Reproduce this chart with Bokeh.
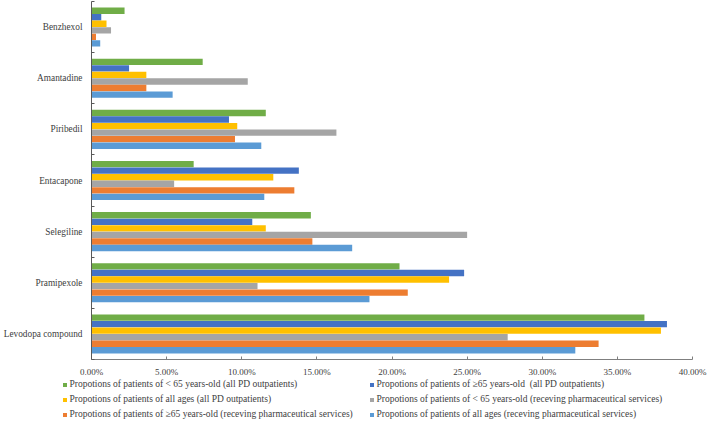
from bokeh.plotting import figure
from bokeh.models import (ColumnDataSource, Range1d, FixedTicker, PrintfTickFormatter,
                          Legend, LegendItem)
from bokeh.layouts import column
from bokeh.transform import dodge
from bokeh.embed import file_html
from bokeh.resources import INLINE

# Categories, bottom to top
drugs = ["Levodopa compound", "Pramipexole", "Selegiline", "Entacapone",
         "Piribedil", "Amantadine", "Benzhexol"]

lt65_all = [36.8, 20.5, 14.6, 6.8, 11.6, 7.4, 2.2]
ge65_all = [38.3, 24.8, 10.7, 13.8, 9.15, 2.5, 0.65]
allages_all = [37.9, 23.8, 11.6, 12.1, 9.7, 3.65, 1.0]
lt65_pharm = [27.7, 11.05, 25.0, 5.5, 16.3, 10.4, 1.3]
ge65_pharm = [33.75, 21.05, 14.7, 13.5, 9.55, 3.65, 0.3]
allages_pharm = [32.2, 18.5, 17.35, 11.5, 11.3, 5.4, 0.58]

series_labels = [
    "Propotions of patients of < 65 years-old (all PD outpatients)",
    "Propotions of patients of \u226565 years-old  (all PD outpatients)",
    "Propotions of patients of all ages (all PD outpatients)",
    "Propotions of patients of < 65 years-old (receving pharmaceutical services)",
    "Propotions of patients of \u226565 years-old (receving pharmaceutical services)",
    "Propotions of patients of all ages (receving pharmaceutical services)",
]
colors = ["#70AD47", "#4472C4", "#FFC000", "#A5A5A5", "#ED7D31", "#5B9BD5"]
x_ticks = [0, 5, 10, 15, 20, 25, 30, 35, 40]

ypos = [i + 0.5 for i in range(len(drugs))]
src = ColumnDataSource(dict(
    y=ypos, drug=drugs,
    s0=lt65_all, s1=ge65_all, s2=allages_all,
    s3=lt65_pharm, s4=ge65_pharm, s5=allages_pharm,
))

FONT = "Liberation Serif"
TXT = "#404040"

p = figure(width=708, height=379, output_backend="svg", toolbar_location=None,
           x_range=Range1d(0, 40), y_range=Range1d(0, 7),
           min_border_left=91, min_border_right=16, min_border_top=1,
           min_border_bottom=20)
p.frame_align = False
p.outline_line_color = None
p.xgrid.grid_line_color = None
p.ygrid.grid_line_color = None
p.background_fill_color = "white"
p.border_fill_color = "white"

step = 0.128
offsets = [2.5 * step, 1.5 * step, 0.5 * step, -0.5 * step, -1.5 * step, -2.5 * step]
for k in range(6):
    p.hbar(y=dodge("y", offsets[k]), right="s%d" % k, left=0, height=step * 0.97,
           source=src, fill_color=colors[k], line_color=None)

# x axis
xa = p.xaxis[0]
xa.ticker = FixedTicker(ticks=x_ticks)
xa.formatter = PrintfTickFormatter(format="%.2f%%")
xa.major_label_text_font = FONT
xa.major_label_text_font_size = "9px"
xa.major_label_text_color = TXT
xa.axis_line_color = "#7f7f7f"
xa.major_tick_line_color = "#7f7f7f"
xa.major_tick_in = 3
xa.major_tick_out = 0
xa.minor_tick_line_color = None
xa.major_label_standoff = 7

# y axis
ya = p.yaxis[0]
ya.ticker = FixedTicker(ticks=ypos, minor_ticks=list(range(len(drugs) + 1)))
ya.major_label_overrides = {v: d for v, d in zip(ypos, drugs)}
ya.major_label_text_font = FONT
ya.major_label_text_font_size = "9.3px"
ya.major_label_text_color = TXT
ya.axis_line_color = "#595959"
ya.major_tick_line_color = None
ya.minor_tick_line_color = "#595959"
ya.minor_tick_in = 3
ya.minor_tick_out = 0
ya.major_label_standoff = 3

# Legend figure
q = figure(width=708, height=43, output_backend="svg", toolbar_location=None,
           x_axis_type=None, y_axis_type=None, x_range=Range1d(0, 1), y_range=Range1d(0, 1),
           min_border=0)
q.frame_align = False
q.outline_line_color = None
q.xgrid.grid_line_color = None
q.ygrid.grid_line_color = None
leg_r = []
for k in range(6):
    leg_r.append(q.quad(left=[5], right=[6], top=[6], bottom=[5],
                        fill_color=colors[k], line_color=None))

def make_legend(idx, loc):
    items = [LegendItem(label=series_labels[i], renderers=[leg_r[i]]) for i in idx]
    lg = Legend(items=items, location=loc, orientation="vertical",
                glyph_width=5, glyph_height=5, label_height=10, spacing=5,
                label_standoff=3, padding=0, margin=0,
                border_line_color=None, background_fill_alpha=0,
                label_text_font=FONT, label_text_font_size="9.5px",
                label_text_color=TXT)
    q.add_layout(lg, "center")

make_legend([0, 2, 4], (61.5, 3))
make_legend([1, 3, 5], (368.5, 3))

open("out.html", "w").write(file_html(column(p, q, spacing=0), INLINE))
